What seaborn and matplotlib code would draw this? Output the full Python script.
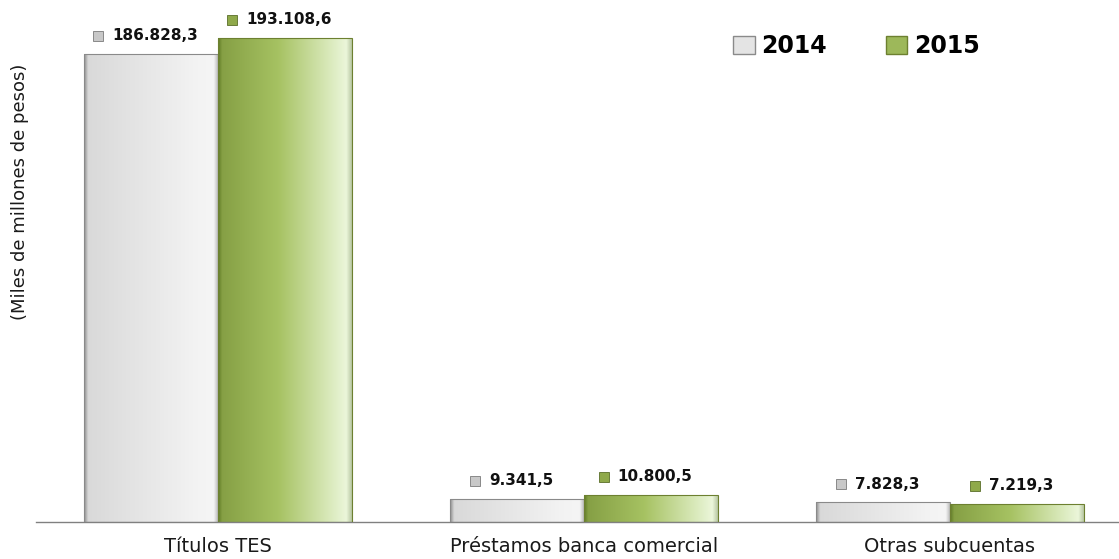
import numpy as np
import pandas as pd
import seaborn as sns
import matplotlib.pyplot as plt
from matplotlib.colors import LinearSegmentedColormap
from matplotlib.patches import Patch
from matplotlib.transforms import ScaledTranslation

# data
categories = ["Títulos TES", "Préstamos banca comercial", "Otras subcuentas"]
years = ["2014", "2015"]
values_2014 = [186828.3, 9341.5, 7828.3]
values_2015 = [193108.6, 10800.5, 7219.3]
labels_2014 = ["186.828,3", "9.341,5", "7.828,3"]
labels_2015 = ["193.108,6", "10.800,5", "7.219,3"]

df = pd.DataFrame({
    "categoria": categories * 2,
    "anio": ["2014"] * 3 + ["2015"] * 3,
    "valor": values_2014 + values_2015,
})

sns.set_style("white")
plt.rcParams['font.family'] = ['DejaVu Sans']

fig = plt.figure(figsize=(11.19, 5.59), dpi=100)
ax = fig.add_axes([36 / 1119, 37 / 559, 1 - 36 / 1119, 1 - 37 / 559])

base = {"2014": "#e6e6e6", "2015": "#9db85a"}
sns.barplot(data=df, x="categoria", y="valor", hue="anio", palette=base,
            width=0.732, gap=0, ax=ax, legend=False, edgecolor="none")

# gradient fill for each bar
cmaps = {
    "2014": LinearSegmentedColormap.from_list("g14", [
        (0.0, "#8e8e8e"), (0.03, "#d9d9d9"), (0.85, "#f3f3f3"), (0.97, "#f5f5f5"), (1.0, "#bdbdbd")]),
    "2015": LinearSegmentedColormap.from_list("g15", [
        (0.0, "#5f7a24"), (0.03, "#86a045"), (0.45, "#a6c262"), (0.85, "#dcebbf"),
        (0.96, "#ebf6da"), (1.0, "#b9c8a4")]),
}
grad = np.linspace(0, 1, 256).reshape(1, -1)
for year, cont in zip(years, ax.containers):
    for bar in cont:
        x0, y0 = bar.get_x(), bar.get_y()
        w, h = bar.get_width(), bar.get_height()
        im = ax.imshow(grad, cmap=cmaps[year], aspect="auto",
                       extent=(x0, x0 + w, y0, y0 + h), zorder=2)
        im.set_clip_path(bar)
        bar.set_edgecolor("#8a8a8a" if year == "2014" else "#6d8030")
        bar.set_linewidth(0.8)
        bar.set_facecolor("none")
        bar.set_zorder(3)

ax.set_xlim(-0.497, 2.462)
ax.set_ylim(0, 208270)

# value labels with small square markers
fig.canvas.draw()
renderer = fig.canvas.get_renderer()
mk_colors = {"2014": "#c8c8c8", "2015": "#8fa94a"}
mk_edges = {"2014": "#7a7a7a", "2015": "#5a6e28"}
for year, cont, labs in zip(years, ax.containers, [labels_2014, labels_2015]):
    for bar, lab in zip(cont, labs):
        cx = bar.get_x() + bar.get_width() / 2
        top = bar.get_height()
        t = ax.annotate(lab, xy=(cx, top), xytext=(3, 13), textcoords="offset points",
                        ha="center", va="center", fontsize=11, fontweight="bold",
                        color="#111111")
        bb = t.get_window_extent(renderer)
        wpt = bb.width * 72 / fig.dpi
        ax.plot([cx], [top], marker="s", markersize=7.5, color=mk_colors[year],
                markeredgecolor=mk_edges[year], markeredgewidth=0.6,
                transform=ax.transData + ScaledTranslation(
                    (3 - wpt / 2 - 10) / 72, 13 / 72, fig.dpi_scale_trans),
                clip_on=False, zorder=5)

# axes styling
for s in ["top", "right", "left"]:
    ax.spines[s].set_visible(False)
ax.spines["bottom"].set_color("#808080")
ax.spines["bottom"].set_linewidth(1)
ax.set_yticks([])
ax.set_xlabel("")
ax.set_ylabel("")
ax.tick_params(axis="x", length=0, labelsize=14, colors="#1a1a1a", pad=11)

fig.text(20 / 1119, 1 - 192 / 559, "(Miles de millones de pesos)", rotation=90,
         ha="center", va="center", fontsize=13, color="#1a1a1a")

handles = [Patch(facecolor="#e4e4e4", edgecolor="#8a8a8a", label="2014"),
           Patch(facecolor="#9db85a", edgecolor="#6d8030", label="2015")]
leg = ax.legend(handles=handles, loc="upper left", bbox_to_anchor=(712 / 1119, 0.977),
                bbox_transform=fig.transFigure, ncol=2, frameon=False,
                handlelength=0.9, handleheight=0.8, handletextpad=0.3, columnspacing=2.5,
                prop={"size": 17, "weight": "bold"})
for txt in leg.get_texts():
    txt.set_color("#000000")

fig.savefig("out.png", dpi=100)
